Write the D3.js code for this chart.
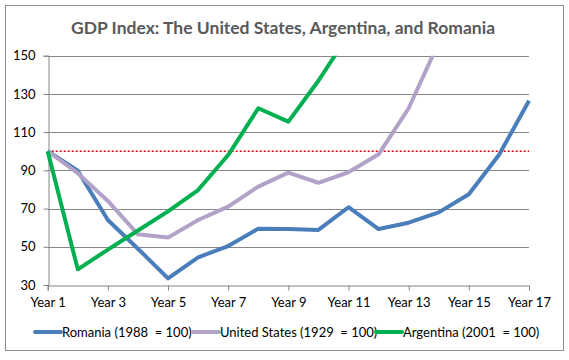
<!DOCTYPE html>
<html><head><meta charset="utf-8">
<script src="https://cdn.jsdelivr.net/npm/d3@7"></script>
<style>body{margin:0;background:#fff}svg{display:block}</style>
</head><body>
<svg id="c" width="569" height="360"></svg>
<script>
const years = d3.range(1, 18);
const tickYears = [1,3,5,7,9,11,13,15,17];
const yTicks = [30,50,70,90,110,130,150];
const romania = [100,89.8,64,49,33.5,44.5,50.4,59.5,59.3,58.8,70.7,59.3,62.6,68,77.5,98,126.4];
const unitedStates = [100,88.5,74,56.5,54.8,64,71,81.5,88.8,83.5,89,98.4,122.5,157];
const argentina = [100,38.2,48.5,58.5,68.5,79.7,98,122.5,115.5,136.9,161];
const seriesNames = ["Romania (1988  = 100)","United States (1929  = 100)","Argentina (2001  = 100)"];
const seriesColors = ["#4a7ebb","#b3a2c7","#00b050"];
const baseline = 100;

const svg = d3.select("#c");
const font = "Lato, 'Open Sans', sans-serif";
const x = d3.scaleLinear().domain([1,17]).range([47.7,529]);
const y = d3.scaleLinear().domain([30,150]).range([285,55.7]);

svg.append("rect").attr("x",5.5).attr("y",5.5).attr("width",558).attr("height",345)
  .attr("fill","#fff").attr("stroke","#8c8c8c");

svg.append("text").attr("x",283).attr("y",34).attr("text-anchor","middle")
  .attr("font-family",font).attr("font-weight","bold").attr("font-size",17.5)
  .attr("fill","#595959").text("GDP Index: The United States, Argentina, and Romania");

// gridlines
svg.append("g").selectAll("line").data(yTicks.slice(1)).join("line")
  .attr("x1",x(1)).attr("x2",x(17)).attr("y1",d=>Math.round(y(d))+0.5).attr("y2",d=>Math.round(y(d))+0.5)
  .attr("stroke","#868686").attr("stroke-width",1);

// y axis
const yAx = svg.append("g").attr("transform",`translate(${Math.round(x(1))+0.5},0)`)
  .call(d3.axisLeft(y).tickValues(yTicks).tickSize(5).tickPadding(8));
yAx.select(".domain").attr("stroke","#868686");
yAx.selectAll(".tick line").attr("stroke","#868686");
yAx.selectAll("text").attr("font-family",font).attr("font-size",13).attr("fill","#000");

// x axis
const xAx = svg.append("g").attr("transform",`translate(0,${Math.round(y(30))+0.5})`)
  .call(d3.axisBottom(x).tickValues(tickYears).tickSize(5).tickPadding(7).tickFormat(d=>"Year "+d));
xAx.select(".domain").attr("stroke","#868686");
xAx.selectAll(".tick line").attr("stroke","#868686");
xAx.selectAll("text").attr("font-family",font).attr("font-size",13).attr("fill","#000");

// clip
svg.append("clipPath").attr("id","pa").append("rect")
  .attr("x",x(1)-4).attr("y",y(150)).attr("width",x(17)-x(1)+8).attr("height",y(30)-y(150)+4);

const plot = svg.append("g").attr("clip-path","url(#pa)");
plot.append("line").attr("x1",x(1)).attr("x2",x(17)).attr("y1",y(baseline)).attr("y2",y(baseline))
  .attr("stroke","#e00000").attr("stroke-width",1.6).attr("stroke-dasharray","2,2");

const line = d3.line().x((d,i)=>x(years[i])).y(d=>y(d));
[romania, unitedStates, argentina].forEach((s,k)=>{
  plot.append("path").datum(s).attr("d",line).attr("fill","none")
    .attr("stroke",seriesColors[k]).attr("stroke-width",4).attr("stroke-linejoin","round");
});
// draw order: romania on top like reference? Excel draws in order, later on top.

// legend
const legendX = [35,193,376];
seriesNames.forEach((n,k)=>{
  const g = svg.append("g").attr("transform",`translate(${legendX[k]},332)`);
  g.append("line").attr("x1",0).attr("x2",26).attr("y1",0).attr("y2",0)
    .attr("stroke",seriesColors[k]).attr("stroke-width",4).attr("stroke-linecap","round");
  g.append("text").attr("x",27).attr("y",4.5).attr("font-family",font).attr("font-size",13)
    .attr("fill","#000").style("white-space","pre").text(n);
});
</script>
</body></html>
